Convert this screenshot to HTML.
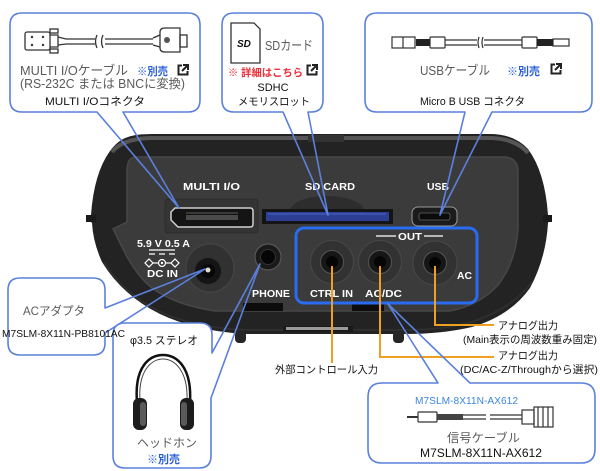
<!DOCTYPE html>
<html><head><meta charset="utf-8">
<style>
html,body{margin:0;padding:0;background:#fff;}
svg{display:block;}
text{font-family:"Liberation Sans","Noto Sans CJK JP",sans-serif;}
.lbl{fill:#fff;font-weight:bold;}
.gray{fill:#5a5a5a;}
.blk{fill:#111;}
.blue{fill:#2b5fd6;font-weight:bold;}
.call{fill:none;stroke:#5b80dc;stroke-width:1.6;stroke-linejoin:round;}
.tail{stroke:#5b80dc;stroke-width:1.6;fill:none;}
.org{stroke:#f0a020;stroke-width:2;fill:none;}
</style></head><body>
<svg width="600" height="471" viewBox="0 0 600 471" xmlns="http://www.w3.org/2000/svg">
<rect width="600" height="471" fill="#fff"/>

<!-- ============ DEVICE ============ -->
<path d="M128 137 Q136 134 152 134 L490 134 Q514 134 528 149 Q545 172 548 215 L550 219 L548 223 Q546 258 530 288 Q510 316 472 327 Q442 334 405 334 L245 334 Q196 331 160 314 Q122 295 102 262 Q93 242 92 223 L88 219 L91 215 Q94 173 110 151 Q118 140 128 137 Z" fill="#232323"/>
<path d="M112 152 Q122 139 150 138 L492 138 Q516 139 528 153" fill="none" stroke="#555" stroke-width="4"/>
<rect x="308" y="135" width="36" height="7" fill="#333"/>
<!-- face -->
<path d="M135 157 L505 157 Q517 158 518 170 L518 228 Q516 262 498 285 Q480 305 450 311 L215 311 Q175 305 152 288 Q138 277 126 255 L113 229 L127 222 L127 168 Q128 158 135 157 Z" fill="#3b3b3b" stroke="#474747" stroke-width="1.5"/>
<!-- lower rim seam -->
<path d="M104 262 Q125 298 170 316 Q205 329 250 330 L405 330 Q445 330 475 321 Q512 308 532 282" fill="none" stroke="#2e2e2e" stroke-width="2"/>
<!-- side lips -->
<rect x="86" y="215" width="10" height="7" fill="#1a1a1a"/>
<rect x="543" y="215" width="9" height="7" fill="#1a1a1a"/>
<!-- feet -->
<rect x="235" y="331" width="11" height="12" rx="4" fill="#262626"/>
<rect x="393" y="331" width="11" height="12" rx="4" fill="#262626"/>
<!-- slots & label -->
<rect x="243" y="303" width="40" height="8" fill="#0c0c0c"/>
<rect x="352" y="303" width="32" height="8" fill="#0c0c0c"/>
<rect x="283" y="326" width="70" height="6" rx="1" fill="#1a1a1a"/>
<rect x="286" y="327" width="62" height="3" fill="#9a9a9a"/>

<!-- MULTI I/O port -->
<rect x="165" y="199" width="93" height="34" rx="3" fill="#343434" stroke="#2c2c2c"/>
<path d="M175 208 H250 Q253 208 253 211 V224 Q253 227 250 227 H178 L171 220 V212 Z" fill="#141414" stroke="#d0d0d0" stroke-width="1.5"/>
<rect x="186" y="215" width="52" height="5" fill="#4a4a4a"/>
<line x1="186" y1="213" x2="238" y2="213" stroke="#777" stroke-width="0.8"/>

<!-- SD slot -->
<path d="M290 211 A37 15 0 0 1 364 211 Z" fill="#2d2d2d"/>
<rect x="262" y="209" width="131" height="15" fill="#141414"/>
<rect x="266" y="212" width="123" height="9" fill="#2c3f94"/>
<line x1="268" y1="214" x2="386" y2="214" stroke="#4d66c6" stroke-width="1"/>

<!-- USB port -->
<rect x="412" y="207" width="45" height="19" rx="6" fill="#1b1b1b" stroke="#9a9a9a" stroke-width="1"/>
<rect x="419" y="213" width="31" height="7" rx="2" fill="#0b0b0b" stroke="#666" stroke-width="0.8"/>

<!-- device labels -->
<text class="lbl" x="183" y="190" font-size="10.5" textLength="57" lengthAdjust="spacingAndGlyphs">MULTI I/O</text>
<text class="lbl" x="305" y="190" font-size="10.5" textLength="50" lengthAdjust="spacingAndGlyphs">SD CARD</text>
<text class="lbl" x="427" y="190" font-size="10.5" textLength="22" lengthAdjust="spacingAndGlyphs">USB</text>
<text class="lbl" x="137" y="247" font-size="10" textLength="53" lengthAdjust="spacingAndGlyphs">5.9 V 0.5 A</text>
<line x1="149" y1="250" x2="175" y2="250" stroke="#fff" stroke-width="1.2"/>
<path d="M149 254 h6 M159 254 h6 M169 254 h6" stroke="#fff" stroke-width="1.2"/>
<polygon points="145,263 149,259 153,263 149,267" fill="none" stroke="#fff" stroke-width="1.2"/>
<circle cx="162" cy="263" r="3.5" fill="none" stroke="#fff" stroke-width="1.2"/>
<circle cx="162" cy="263" r="1.2" fill="#fff"/>
<polygon points="171,263 175,259 179,263 175,267" fill="none" stroke="#fff" stroke-width="1.2"/>
<line x1="153" y1="263" x2="158.5" y2="263" stroke="#fff" stroke-width="1.2"/>
<line x1="165.5" y1="263" x2="171" y2="263" stroke="#fff" stroke-width="1.2"/>
<text class="lbl" x="147" y="277" font-size="10.5" textLength="31" lengthAdjust="spacingAndGlyphs">DC IN</text>
<text class="lbl" x="252" y="297" font-size="10.5" textLength="38" lengthAdjust="spacingAndGlyphs">PHONE</text>
<text class="lbl" x="310" y="297" font-size="10.5" textLength="43" lengthAdjust="spacingAndGlyphs">CTRL IN</text>
<text class="lbl" x="365" y="297" font-size="10.5" textLength="37" lengthAdjust="spacingAndGlyphs">AC/DC</text>
<text class="lbl" x="457" y="279" font-size="10.5" textLength="15" lengthAdjust="spacingAndGlyphs">AC</text>
<text class="lbl" x="398" y="240" font-size="10" textLength="24" lengthAdjust="spacingAndGlyphs">OUT</text>
<line x1="376" y1="236" x2="396" y2="236" stroke="#fff" stroke-width="1.3"/>
<line x1="424" y1="236" x2="443" y2="236" stroke="#fff" stroke-width="1.3"/>

<!-- DC IN jack -->
<circle cx="210" cy="268" r="24" fill="#313131" stroke="#464646" stroke-width="1"/>
<circle cx="208" cy="271" r="13" fill="#141414"/>
<circle cx="208" cy="271" r="7" fill="#070707"/>
<circle cx="208" cy="270" r="2.5" fill="#e4dcc4"/>
<!-- PHONE jack -->
<circle cx="268" cy="257" r="13" fill="#1a1a1a" stroke="#575757" stroke-width="1.2"/>
<circle cx="268" cy="257" r="7.5" fill="#060606" stroke="#333" stroke-width="1"/>
<!-- OUT jacks -->
<g>
<circle cx="332" cy="262" r="21.5" fill="#323232" stroke="#484848" stroke-width="1"/>
<circle cx="332" cy="262" r="11.5" fill="#161616" stroke="#555" stroke-width="1"/>
<circle cx="332" cy="262" r="6" fill="#050505"/>
<circle cx="380" cy="262" r="21.5" fill="#323232" stroke="#484848" stroke-width="1"/>
<circle cx="380" cy="262" r="11.5" fill="#161616" stroke="#555" stroke-width="1"/>
<circle cx="380" cy="262" r="6" fill="#050505"/>
<circle cx="435" cy="263" r="22" fill="#323232" stroke="#484848" stroke-width="1"/>
<circle cx="435" cy="263" r="11.5" fill="#161616" stroke="#555" stroke-width="1"/>
<circle cx="435" cy="263" r="6" fill="#050505"/>
</g>
<!-- OUT box -->
<rect x="296" y="228" width="181" height="75" rx="8" fill="none" stroke="#2a6cf0" stroke-width="3"/>

<!-- ============ ORANGE LINES ============ -->
<path class="org" d="M332 266 V363"/>
<path class="org" d="M380 266 V357 H494"/>
<path class="org" d="M435 266 V325 H494"/>
<text class="blk" x="275" y="373" font-size="10.5" textLength="103" lengthAdjust="spacingAndGlyphs">外部コントロール入力</text>
<text class="blk" x="498" y="329" font-size="10.5" textLength="60" lengthAdjust="spacingAndGlyphs">アナログ出力</text>
<text class="blk" x="463" y="343" font-size="10.5" textLength="134" lengthAdjust="spacingAndGlyphs">(Main表示の周波数重み固定)</text>
<text class="blk" x="498" y="359" font-size="10.5" textLength="60" lengthAdjust="spacingAndGlyphs">アナログ出力</text>
<text class="blk" x="460" y="373" font-size="10.5" textLength="138" lengthAdjust="spacingAndGlyphs">(DC/AC-Z/Throughから選択)</text>

<!-- ============ CALLOUT 1: MULTI I/O ============ -->
<path class="call" d="M97 112 L179 208 L123 112 H188 Q200 112 200 100 V25 Q200 13 188 13 H22 Q10 13 10 25 V100 Q10 112 22 112 Z"/>
<g fill="none" stroke="#333" stroke-width="1.3">
<rect x="25" y="32" width="25" height="18" rx="2"/>
<rect x="50" y="29" width="8" height="4"/>
<rect x="50" y="49" width="8" height="4"/>
<path d="M50 35 H58 V47 H50"/>
<path d="M58 37 L66 39 M58 45 L66 44"/>
<path d="M66 39 H95 M66 44 H95"/>
<path d="M97 35 Q94 41.5 97 48 M103 35 Q100 41.5 103 48"/>
<path d="M105 39 H153 M105 44 H153"/>
<path d="M153 38 L160 35 M153 45 L160 47"/>
<path d="M160 32 Q160 28 165 28 H180 V52 H165 Q160 52 160 48 Z"/>
<rect x="180" y="35" width="7" height="12"/>
</g>
<circle cx="32" cy="37" r="1.2" fill="#333"/><circle cx="32" cy="45" r="1.2" fill="#333"/><circle cx="43" cy="37" r="1.2" fill="#333"/><circle cx="43" cy="45" r="1.2" fill="#333"/>
<circle cx="167" cy="40" r="3" fill="#555"/>
<text class="gray" x="20" y="75" font-size="13" textLength="108" lengthAdjust="spacingAndGlyphs">MULTI I/Oケーブル</text>
<text class="blue" x="137" y="75" font-size="11" textLength="31" lengthAdjust="spacingAndGlyphs">※別売</text>
<g transform="translate(177,64)"><path d="M5 1.5 H1.5 V10.5 H10.5 V7" fill="none" stroke="#222" stroke-width="2"/><path d="M5 7 L10 2 M6 1 H11 V6" fill="none" stroke="#222" stroke-width="2"/></g>
<text class="gray" x="20" y="88" font-size="12.5" textLength="165" lengthAdjust="spacingAndGlyphs">(RS-232C または BNCに変換)</text>
<text class="blk" x="45" y="105" font-size="11" textLength="100" lengthAdjust="spacingAndGlyphs">MULTI I/Oコネクタ</text>

<!-- ============ CALLOUT 2: SD ============ -->
<path class="call" d="M283 112 L328 215 L308 112 H311 Q323 112 323 100 V25 Q323 13 311 13 H234 Q222 13 222 25 V100 Q222 112 234 112 Z"/>
<path d="M231 23 H254 L260 29 V63 H231 Z" fill="#fff" stroke="#333" stroke-width="1.3"/>
<text x="237" y="47" font-size="10" font-weight="bold" font-style="italic" fill="#111">SD</text>
<text class="gray" x="265" y="50" font-size="13" textLength="48" lengthAdjust="spacingAndGlyphs">SDカード</text>
<text x="228" y="76" font-size="10.5" font-weight="bold" fill="#e8323c" textLength="75" lengthAdjust="spacingAndGlyphs">※ 詳細はこちら</text>
<g transform="translate(306,64)"><path d="M5 1.5 H1.5 V10.5 H10.5 V7" fill="none" stroke="#222" stroke-width="2"/><path d="M5 7 L10 2 M6 1 H11 V6" fill="none" stroke="#222" stroke-width="2"/></g>
<text class="blk" x="273" y="91" font-size="11" text-anchor="middle">SDHC</text>
<text class="blk" x="238" y="105" font-size="10.5" textLength="72" lengthAdjust="spacingAndGlyphs">メモリスロット</text>

<!-- ============ CALLOUT 3: USB ============ -->
<path class="call" d="M465 112 L440 215 L492 112 H580 Q592 112 592 100 V25 Q592 13 580 13 H377 Q365 13 365 25 V100 Q365 112 377 112 Z"/>
<g fill="none" stroke="#333" stroke-width="1.2">
<rect x="392" y="37" width="23" height="11"/>
<line x1="403" y1="37" x2="403" y2="48"/>
<rect x="430" y="37" width="15" height="11" rx="1"/>
<path d="M445 40 H477 M445 45 H477 M484 40 H522 M484 45 H522"/>
<path d="M479 37 Q477 42.5 479 48 M483 37 Q481 42.5 483 48"/>
<rect x="522" y="37" width="15" height="11" rx="1"/>
<rect x="553" y="39" width="16" height="7"/>
</g>
<rect x="416" y="39" width="14" height="7" fill="#222"/>
<rect x="537" y="39" width="16" height="7" fill="#222"/>
<text class="gray" x="420" y="75" font-size="13" textLength="70" lengthAdjust="spacingAndGlyphs">USBケーブル</text>
<text class="blue" x="507" y="75" font-size="11" textLength="33" lengthAdjust="spacingAndGlyphs">※別売</text>
<g transform="translate(550,63)"><path d="M5 1.5 H1.5 V10.5 H10.5 V7" fill="none" stroke="#222" stroke-width="2"/><path d="M5 7 L10 2 M6 1 H11 V6" fill="none" stroke="#222" stroke-width="2"/></g>
<text class="blk" x="420" y="105" font-size="11" textLength="105" lengthAdjust="spacingAndGlyphs">Micro B USB コネクタ</text>

<!-- ============ CALLOUT 4: AC adapter ============ -->
<rect x="8" y="278" width="97" height="77" rx="12" fill="#fff"/>
<path class="call" d="M105 308 L205 269 L105 333 V343 Q105 355 93 355 H20 Q8 355 8 343 V290 Q8 278 20 278 H93 Q105 278 105 290 Z"/>
<text class="gray" x="23" y="315" font-size="12" textLength="62" lengthAdjust="spacingAndGlyphs">ACアダプタ</text>

<!-- ============ CALLOUT 5: headphone ============ -->
<rect x="113" y="323" width="99" height="145" rx="12" fill="#fff"/>
<path class="call" d="M212 353 L260 264 L211 398 V456 Q211 468 199 468 H125 Q113 468 113 456 V335 Q113 323 125 323 H200 Q212 323 212 335 Z"/>
<text class="blk" x="130" y="344" font-size="11" textLength="68" lengthAdjust="spacingAndGlyphs">φ3.5 ステレオ</text>
<path d="M137 402 C134 366 150 355 163 355 C176 355 192 366 190 402" fill="none" stroke="#111" stroke-width="2.5"/>
<path d="M140 400 C138 370 152 359 163 359 C174 359 188 370 187 400" fill="none" stroke="#444" stroke-width="1"/>
<rect x="133" y="398" width="14" height="32" rx="6" fill="#1c1c1c"/>
<rect x="140" y="402" width="6" height="24" rx="3" fill="#5a5a5a"/>
<rect x="180" y="398" width="14" height="32" rx="6" fill="#1c1c1c"/>
<rect x="181" y="402" width="6" height="24" rx="3" fill="#5a5a5a"/>
<text class="gray" x="137" y="447" font-size="12" textLength="60" lengthAdjust="spacingAndGlyphs">ヘッドホン</text>
<text class="blue" x="147" y="463" font-size="11" textLength="33" lengthAdjust="spacingAndGlyphs">※別売</text>

<!-- AC adapter model text drawn over headphone box corner -->
<text class="blk" x="2" y="337" font-size="10.5" textLength="123" lengthAdjust="spacingAndGlyphs">M7SLM-8X11N-PB8101AC</text>

<!-- ============ CALLOUT 6: signal cable ============ -->
<rect x="368" y="383" width="227" height="80" rx="14" fill="#fff"/>
<path class="call" d="M438 383 L388 304 L470 383 H581 Q595 383 595 397 V449 Q595 463 581 463 H382 Q368 463 368 449 V397 Q368 383 382 383 Z"/>
<text x="415" y="404" font-size="10.5" fill="#3d86e0" textLength="103" lengthAdjust="spacingAndGlyphs">M7SLM-8X11N-AX612</text>
<g fill="none" stroke="#333" stroke-width="1.2">
<line x1="407" y1="417" x2="418" y2="417" stroke-width="2"/>
<rect x="418" y="412" width="19" height="10" rx="1"/>
<path d="M463 415 H486 M463 419 H486 M490 415 H522 M490 419 H522"/>
<rect x="522" y="410" width="12" height="14"/>
<rect x="534" y="407" width="19" height="20"/>
<path d="M538 407 V427 M543 407 V427 M548 407 V427"/>
</g>
<rect x="437" y="414" width="26" height="6" fill="#444"/>
<text class="gray" x="447" y="442" font-size="12" textLength="73" lengthAdjust="spacingAndGlyphs">信号ケーブル</text>
<text class="blk" x="420" y="457" font-size="12" textLength="122" lengthAdjust="spacingAndGlyphs">M7SLM-8X11N-AX612</text>

</svg>
</body></html>
